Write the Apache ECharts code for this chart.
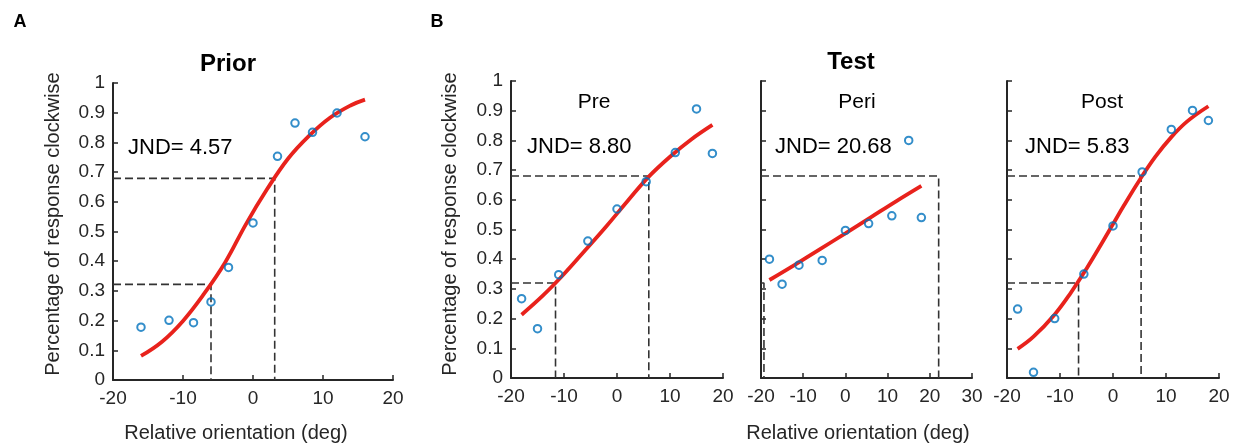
<!DOCTYPE html>
<html>
<head>
<meta charset="utf-8">
<script src="https://cdn.jsdelivr.net/npm/echarts@6/dist/echarts.min.js"></script>
<style>html,body{margin:0;padding:0;background:#fff;}#c{width:1237px;height:445px;}</style>
</head>
<body>
<div id="c"></div>
<script>
// ---- data ----
const priorX = [-16, -12, -8.5, -6, -3.5, 0, 3.5, 6, 8.5, 12, 16];
const priorY = [0.178, 0.201, 0.193, 0.263, 0.379, 0.529, 0.753, 0.865, 0.834, 0.899, 0.819];
const testX  = [-18, -15, -11, -5.5, 0, 5.5, 11, 15, 18];
const preY   = [0.267, 0.166, 0.348, 0.461, 0.569, 0.661, 0.759, 0.906, 0.756];
const periY  = [0.400, 0.316, 0.380, 0.396, 0.497, 0.520, 0.546, 0.800, 0.540];
const postY  = [0.232, 0.019, 0.200, 0.350, 0.512, 0.694, 0.837, 0.901, 0.867];

// fitted curves
const priorCurveX = [-16, -13, -10, -7, -4, -1, 2, 5, 8, 11, 14, 16];
const priorCurveY = [0.081, 0.129, 0.199, 0.290, 0.395, 0.525, 0.642, 0.745, 0.822, 0.883, 0.925, 0.944];
const preCurveX   = [-18, -14, -10, -6, -2, 2, 6, 10, 14, 18];
const preCurveY   = [0.213, 0.277, 0.350, 0.430, 0.511, 0.596, 0.678, 0.745, 0.803, 0.852];
const periCurveX  = [-18, -12, -6, 0, 6, 12, 18];
const periCurveY  = [0.330, 0.381, 0.434, 0.487, 0.541, 0.595, 0.647];
const postCurveX  = [-18, -15, -11, -8, -5, -2, 0, 2, 5, 8, 11, 14, 18];
const postCurveY  = [0.098, 0.139, 0.214, 0.286, 0.368, 0.457, 0.518, 0.579, 0.666, 0.745, 0.811, 0.864, 0.915];

// threshold (dashed guide) positions
const levels      = [0.32, 0.68];
const priorLevels = [0.322, 0.679];
const priorThresh = [-6.0, 3.1];
const preThresh   = [-11.6, 6.0];
const periThresh  = [-19.3, 22.1];
const postThresh  = [-6.5, 5.3];

// tick settings
const xTicksA = {min: -20, max: 20, interval: 10};
const xTicksPeri = {min: -20, max: 30, interval: 10};
const yTicks = {min: 0, max: 1, interval: 0.1};

// labels
const panelTitles = ['Prior', 'Test'];
const subTitles = ['Pre', 'Peri', 'Post'];
const jndTexts = ['JND= 4.57', 'JND= 8.80', 'JND= 20.68', 'JND= 5.83'];
const xName = 'Relative orientation (deg)';
const yName = 'Percentage of response clockwise';

// ---- build chart ----
const FONT = 'Liberation Sans, Arial, sans-serif';
const AXC = '#262626';
const grids = [
  {left: 113, top: 83, width: 280, height: 297},
  {left: 511, top: 81, width: 212, height: 297},
  {left: 761, top: 81, width: 211, height: 297},
  {left: 1007, top: 81, width: 212, height: 297}
];
const xRanges = [xTicksA, xTicksA, xTicksPeri, xTicksA];

function xAxisFor(i) {
  return Object.assign({
    type: 'value', gridIndex: i,
    axisLine: {show: true, onZero: false, lineStyle: {color: AXC, width: 2}},
    axisTick: {show: true, inside: true, length: 5, lineStyle: {color: AXC, width: 1.5}},
    axisLabel: {show: true, color: AXC, fontSize: 19, fontFamily: FONT, margin: 9},
    splitLine: {show: false}
  }, xRanges[i]);
}
function yAxisFor(i) {
  return Object.assign({
    type: 'value', gridIndex: i,
    axisLine: {show: true, onZero: false, lineStyle: {color: AXC, width: 2}},
    axisTick: {show: true, inside: true, length: 5, lineStyle: {color: AXC, width: 1.5}},
    axisLabel: {show: i < 2, color: AXC, fontSize: 19, fontFamily: FONT, margin: 8,
      formatter: v => (Math.round(v * 10) / 10).toString()},
    splitLine: {show: false}
  }, yTicks);
}

const zip = (xs, ys) => xs.map((x, k) => [x, ys[k]]);

function scatter(i, xs, ys) {
  return {type: 'scatter', xAxisIndex: i, yAxisIndex: i, data: zip(xs, ys),
    symbol: 'circle', symbolSize: 7.5, z: 5,
    itemStyle: {color: 'rgba(0,0,0,0)', borderColor: '#0072BD', borderWidth: 2}};
}
function curve(i, xs, ys) {
  return {type: 'line', xAxisIndex: i, yAxisIndex: i, data: zip(xs, ys),
    smooth: 0.4, showSymbol: false, z: 4,
    lineStyle: {color: '#e8221c', width: 3.8}};
}
function guide(i, xmin, t, lvl) {
  return {type: 'line', xAxisIndex: i, yAxisIndex: i,
    data: [[xmin, lvl], [t, lvl], [t, 0]], showSymbol: false, z: 3,
    lineStyle: {color: '#333', width: 1.6, type: [8, 4]}};
}

const series = [
  guide(0, -20, priorThresh[0], priorLevels[0]), guide(0, -20, priorThresh[1], priorLevels[1]),
  guide(1, -20, preThresh[0], levels[0]), guide(1, -20, preThresh[1], levels[1]),
  guide(2, -20, periThresh[0], levels[0]), guide(2, -20, periThresh[1], levels[1]),
  guide(3, -20, postThresh[0], levels[0]), guide(3, -20, postThresh[1], levels[1]),
  curve(0, priorCurveX, priorCurveY), curve(1, preCurveX, preCurveY),
  curve(2, periCurveX, periCurveY), curve(3, postCurveX, postCurveY),
  scatter(0, priorX, priorY), scatter(1, testX, preY),
  scatter(2, testX, periY), scatter(3, testX, postY)
];

function txt(x, y, s, size, opts) {
  return Object.assign({type: 'text', x: x, y: y,
    style: Object.assign({text: s, fontSize: size, fontFamily: FONT, fill: '#000',
      align: 'center', verticalAlign: 'middle'}, (opts && opts.style) || {})},
    opts && opts.el || {});
}

const graphics = [
  txt(20, 22, 'A', 18, {style: {fontWeight: 'bold'}}),
  txt(437, 22, 'B', 18, {style: {fontWeight: 'bold'}}),
  txt(228, 64, panelTitles[0], 24, {style: {fontWeight: 'bold'}}),
  txt(851, 62, panelTitles[1], 24, {style: {fontWeight: 'bold'}}),
  txt(594, 102, subTitles[0], 21),
  txt(857, 102, subTitles[1], 21),
  txt(1102, 102, subTitles[2], 21),
  txt(128, 148, jndTexts[0], 22, {style: {align: 'left'}}),
  txt(527, 147, jndTexts[1], 22, {style: {align: 'left'}}),
  txt(775, 147, jndTexts[2], 22, {style: {align: 'left'}}),
  txt(1025, 147, jndTexts[3], 22, {style: {align: 'left'}}),
  txt(236, 433, xName, 20, {style: {fill: '#262626'}}),
  txt(858, 433, xName, 20, {style: {fill: '#262626'}}),
  txt(53, 224, yName, 20, {style: {fill: '#262626'}, el: {rotation: Math.PI / 2}}),
  txt(450, 224, yName, 20, {style: {fill: '#262626'}, el: {rotation: Math.PI / 2}})
];

const chart = echarts.init(document.getElementById('c'), null, {renderer: 'canvas'});
chart.setOption({
  animation: false,
  backgroundColor: '#fff',
  grid: grids,
  xAxis: [0, 1, 2, 3].map(xAxisFor),
  yAxis: [0, 1, 2, 3].map(yAxisFor),
  series: series,
  graphic: graphics
});
</script>
</body>
</html>
